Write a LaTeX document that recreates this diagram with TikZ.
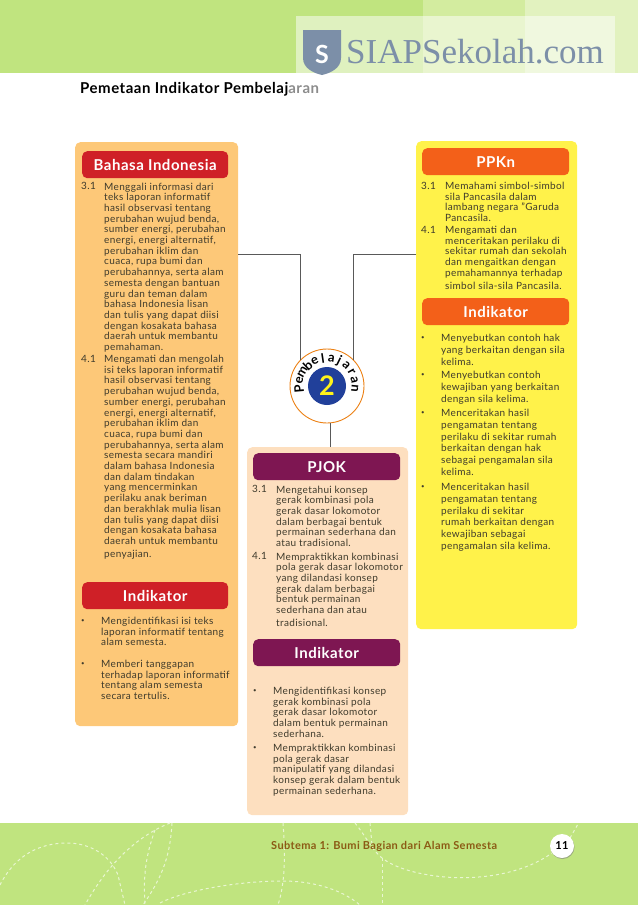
\documentclass[tikz,border=0pt]{standalone}
\usepackage{fontspec}
\setmainfont{Lato}[LetterSpace=3.5]
\newfontfamily\logofont{Liberation Serif}
\newfontfamily\hurufbulat{Lato}
\usetikzlibrary{positioning,shadows}
\definecolor{hijau}{HTML}{C0E47F}
\definecolor{hijaumuda}{HTML}{D3EC9F}
\definecolor{hijauterang}{HTML}{E2F2BF}
\definecolor{oranye}{HTML}{FDC878}
\definecolor{krem}{HTML}{FDDFBF}
\definecolor{kuning}{HTML}{FFF24A}
\definecolor{merah}{HTML}{CF2027}
\definecolor{ungu}{HTML}{7E1652}
\definecolor{jingga}{HTML}{F36019}
\definecolor{biru}{HTML}{21409A}
\definecolor{logo}{HTML}{7C8FA8}
\definecolor{isi}{HTML}{3F3B2C}
\definecolor{cokelat}{HTML}{8B5A14}
\begin{document}
\begin{tikzpicture}[
  x=1pt, y=-1pt,
  font=\fontsize{10}{10.7}\selectfont,
  node distance=2pt,
  panel/.style={anchor=north west, rounded corners=5pt, inner sep=0pt},
  judul/.style={anchor=north west, rounded corners=5pt, inner sep=0pt, minimum width=147pt,
                minimum height=27pt, text=white, font=\fontsize{15}{16}\selectfont\bfseries},
  nomor/.style={anchor=north west, inner sep=0pt, text=isi},
  teks/.style={anchor=north west, inner sep=0pt, align=left, text=isi},
  teksluas/.style={teks, font=\fontsize{10}{11.8}\selectfont},
  titik/.style={anchor=north west, inner sep=0pt, text=isi, font=\fontsize{6}{7}\selectfont, yshift=-2pt},
  garis/.style={draw=black!65, line width=0.9pt},
  putus/.style={draw=white!65!hijau, line width=1pt, dash pattern=on 3pt off 3pt},
]
\useasboundingbox (0,0) rectangle (638,905);

% ---- Pita atas ------------------------------------------------------------
\fill[hijau] (0,0) rectangle (638,73);
\fill[hijaumuda] (423,0) rectangle (525,73);
\fill[hijauterang] (525,0) rectangle (638,73);
\fill[white, opacity=0.5] (296,16) rectangle (615,73);
\path[fill=logo] (303,30) -- (341,30) -- (341,58) .. controls (341,68) and (331,73) .. (322,75)
      .. controls (313,73) and (303,68) .. (303,58) -- cycle;
\node[inner sep=0pt, text=white, font=\fontsize{25}{25}\selectfont\bfseries] (perisai) at (322,54) {S};
\node[anchor=base west, inner sep=0pt, text=logo, font=\fontsize{35}{35}\logofont] (situs) at (346,63) {SIAPSekolah.com};
\node[anchor=west, inner sep=0pt, font=\fontsize{15}{17}\selectfont\bfseries] (halaman) at (80,89)
      {Pemetaan Indikator Pembelaj\textcolor{black!45}{aran}};

% ---- Pita bawah -----------------------------------------------------------
\fill[hijau] (0,823) rectangle (638,905);
\draw[putus] (0,885) .. controls (15,855) and (40,843) .. (67,843) .. controls (90,843) and (110,855) .. (118,875) -- (125,905);
\draw[putus] (170,823) .. controls (140,835) and (110,860) .. (85,905);
\draw[putus] (155,830) .. controls (146,855) and (143,875) .. (145,905);
\draw[putus] (172,823) .. controls (170,860) and (160,880) .. (143,905);
\draw[putus] (160,903) .. controls (185,890) and (240,881) .. (283,881) .. controls (310,881) and (340,888) .. (360,905);
\draw[putus] (283,823) .. controls (285,850) and (286,880) .. (278,905);
\draw[putus] (355,823) .. controls (365,835) and (372,850) .. (382,858)
      .. controls (410,880) and (500,890) .. (552,853);
\draw[putus] (370,823) -- (372,845);
\draw[putus] (382,858) -- (382,905);
\draw[putus] (570,838) -- (578,824);

% ---- Panel ----------------------------------------------------------------
\node[panel, fill=oranye, minimum width=163pt, minimum height=584pt] (panelbi) at (75,142) {};
\node[panel, fill=krem, minimum width=161pt, minimum height=368pt] (panelpjok) at (247,447) {};
\node[panel, fill=kuning, minimum width=161pt, minimum height=488pt] (panelppkn) at (416,141) {};

% ---- Lingkaran pembelajaran -----------------------------------------------
\node[circle, draw=orange!70!brown, fill=white, line width=0.9pt, minimum size=74pt, inner sep=0pt] (lingkaran) at (327,386) {};
\node[circle, fill=biru, minimum size=38pt, inner sep=0pt, text=yellow!90!white,
      font=\fontsize{27}{27}\selectfont\bfseries] (angka) at (lingkaran.center) {2};
\foreach \huruf [count=\i from 0] in {P,e,m,b,e,l,a,j,a,r,a,n}
  \node[inner sep=0pt, text=black, rotate=95-\i*17.3, font=\fontsize{13}{13}\hurufbulat\bfseries]
    (huruf\i) at ([shift={(185-\i*17.3:28pt)}]lingkaran.center) {\huruf};

% ---- Garis ----------------------------------------------------------------
\coordinate (sambungkiri) at (238,254.5);
\coordinate (sambungkanan) at (416,254.5);
\draw[garis] (sambungkiri) -| (lingkaran.135);
\draw[garis] (sambungkanan) -| (lingkaran.45);
\draw[garis] (lingkaran.-85) -- (lingkaran.-85 |- panelpjok.north);

% ---- Bahasa Indonesia -----------------------------------------------------
\node[judul, fill=merah, minimum width=146pt] (bi) at (82,151) {Bahasa Indonesia};
\node[nomor] (bi31) at (81,182.5) {3.1};
\node[teks] (bi31isi) at (104,182.5) {Menggali informasi dari\\teks laporan informatif\\hasil observasi tentang\\perubahan wujud benda,\\sumber energi, perubahan\\energi, energi alternatif,\\perubahan iklim dan\\cuaca, rupa bumi dan\\perubahannya, serta alam\\semesta dengan bantuan\\guru dan teman dalam\\bahasa Indonesia lisan\\dan tulis yang dapat diisi\\dengan kosakata bahasa\\daerah untuk membantu\\pemahaman.};
\node[nomor] (bi41) at (81,355) {4.1};
\node[teks] (bi41isi) at (104,355) {Mengamati dan mengolah\\isi teks laporan informatif\\hasil observasi tentang\\perubahan wujud benda,\\sumber energi, perubahan\\energi, energi alternatif,\\perubahan iklim dan\\cuaca, rupa bumi dan\\perubahannya, serta alam\\semesta secara mandiri\\dalam bahasa Indonesia\\dan dalam tindakan\\yang mencerminkan\\perilaku anak beriman\\dan berakhlak mulia lisan\\dan tulis yang dapat diisi\\dengan kosakata bahasa\\daerah untuk membantu\\[2pt]penyajian.};
\node[judul, fill=merah, minimum width=146pt] (biind) at (82,582) {Indikator};
\node[titik] (bititik1) at (81,617) {•};
\node[teks] (bitik1) at (101,617) {Mengidentifikasi  isi teks\\laporan informatif tentang\\alam semesta.};
\node[titik] (bititik2) at (81,660) {•};
\node[teks] (bitik2) at (101,660) {Memberi tanggapan\\terhadap  laporan informatif\\tentang alam semesta\\secara tertulis.};

% ---- PJOK -----------------------------------------------------------------
\node[judul, fill=ungu] (pjok) at (253,453) {PJOK};
\node[nomor] (pjok31) at (252,485.5) {3.1};
\node[teks] (pjok31isi) at (276,485.5) {Mengetahui konsep\\gerak kombinasi pola\\gerak dasar lokomotor\\dalam berbagai bentuk\\permainan sederhana dan\\atau tradisional.};
\node[nomor] (pjok41) at (252,552.5) {4.1};
\node[teks] (pjok41isi) at (276,552.5) {Mempraktikkan kombinasi\\pola gerak dasar lokomotor\\yang dilandasi konsep\\gerak dalam berbagai\\bentuk permainan\\sederhana dan atau\\[2pt]tradisional.};
\node[judul, fill=ungu] (pjokind) at (253,639) {Indikator};
\node[titik] (pjoktitik1) at (253,687) {•};
\node[teks] (pjoktik1) at (273,687) {Mengidentifikasi konsep\\gerak kombinasi pola\\gerak dasar lokomotor\\dalam bentuk permainan\\sederhana.};
\node[titik] (pjoktitik2) at (253,744) {•};
\node[teks] (pjoktik2) at (273,744) {Mempraktikkan kombinasi\\pola gerak dasar\\manipulatif yang dilandasi\\konsep gerak dalam bentuk\\permainan sederhana.};

% ---- PPKn -----------------------------------------------------------------
\node[judul, fill=jingga] (ppkn) at (422,148) {PPKn};
\node[nomor] (ppkn31) at (421,182) {3.1};
\node[teks] (ppkn31isi) at (445,182) {Memahami simbol-simbol\\sila Pancasila dalam\\lambang negara "Garuda\\Pancasila.};
\node[nomor] (ppkn41) at (421,226) {4.1};
\node[teks] (ppkn41isi) at (445,226) {Mengamati dan\\menceritakan perilaku di\\sekitar rumah dan sekolah\\dan mengaitkan dengan\\pemahamannya terhadap\\[2pt]simbol sila-sila Pancasila.};
\node[judul, fill=jingga] (ppknind) at (422,298) {Indikator};
\node[titik] (ppkntitik1) at (421,334) {•};
\node[teksluas] (ppkntik1) at (441,334) {Menyebutkan contoh hak\\yang berkaitan dengan sila\\kelima.};
\node[titik] (ppkntitik2) at (421,371) {•};
\node[teksluas] (ppkntik2) at (441,371) {Menyebutkan contoh\\kewajiban yang berkaitan\\dengan sila kelima.};
\node[titik] (ppkntitik3) at (421,409) {•};
\node[teksluas] (ppkntik3) at (441,409) {Menceritakan hasil\\pengamatan tentang\\perilaku di sekitar rumah\\berkaitan dengan hak\\sebagai pengamalan sila\\kelima.};
\node[titik] (ppkntitik4) at (421,483) {•};
\node[teksluas] (ppkntik4) at (441,483) {Menceritakan hasil\\pengamatan tentang\\perilaku di sekitar\\rumah berkaitan dengan\\kewajiban sebagai\\pengamalan sila kelima.};

% ---- Kaki halaman ---------------------------------------------------------
\node[anchor=west, inner sep=0pt, text=cokelat, font=\fontsize{11}{13}\selectfont\bfseries] (subtema) at (271,846) {Subtema 1: Bumi Bagian dari Alam Semesta};
\node[circle, fill=white, minimum size=24pt, inner sep=0pt, drop shadow={shadow xshift=0.5pt, shadow yshift=-1pt, opacity=0.6},
      font=\fontsize{11}{13}\selectfont\bfseries] (nohal) at (562,846) {11};
\end{tikzpicture}
\end{document}
